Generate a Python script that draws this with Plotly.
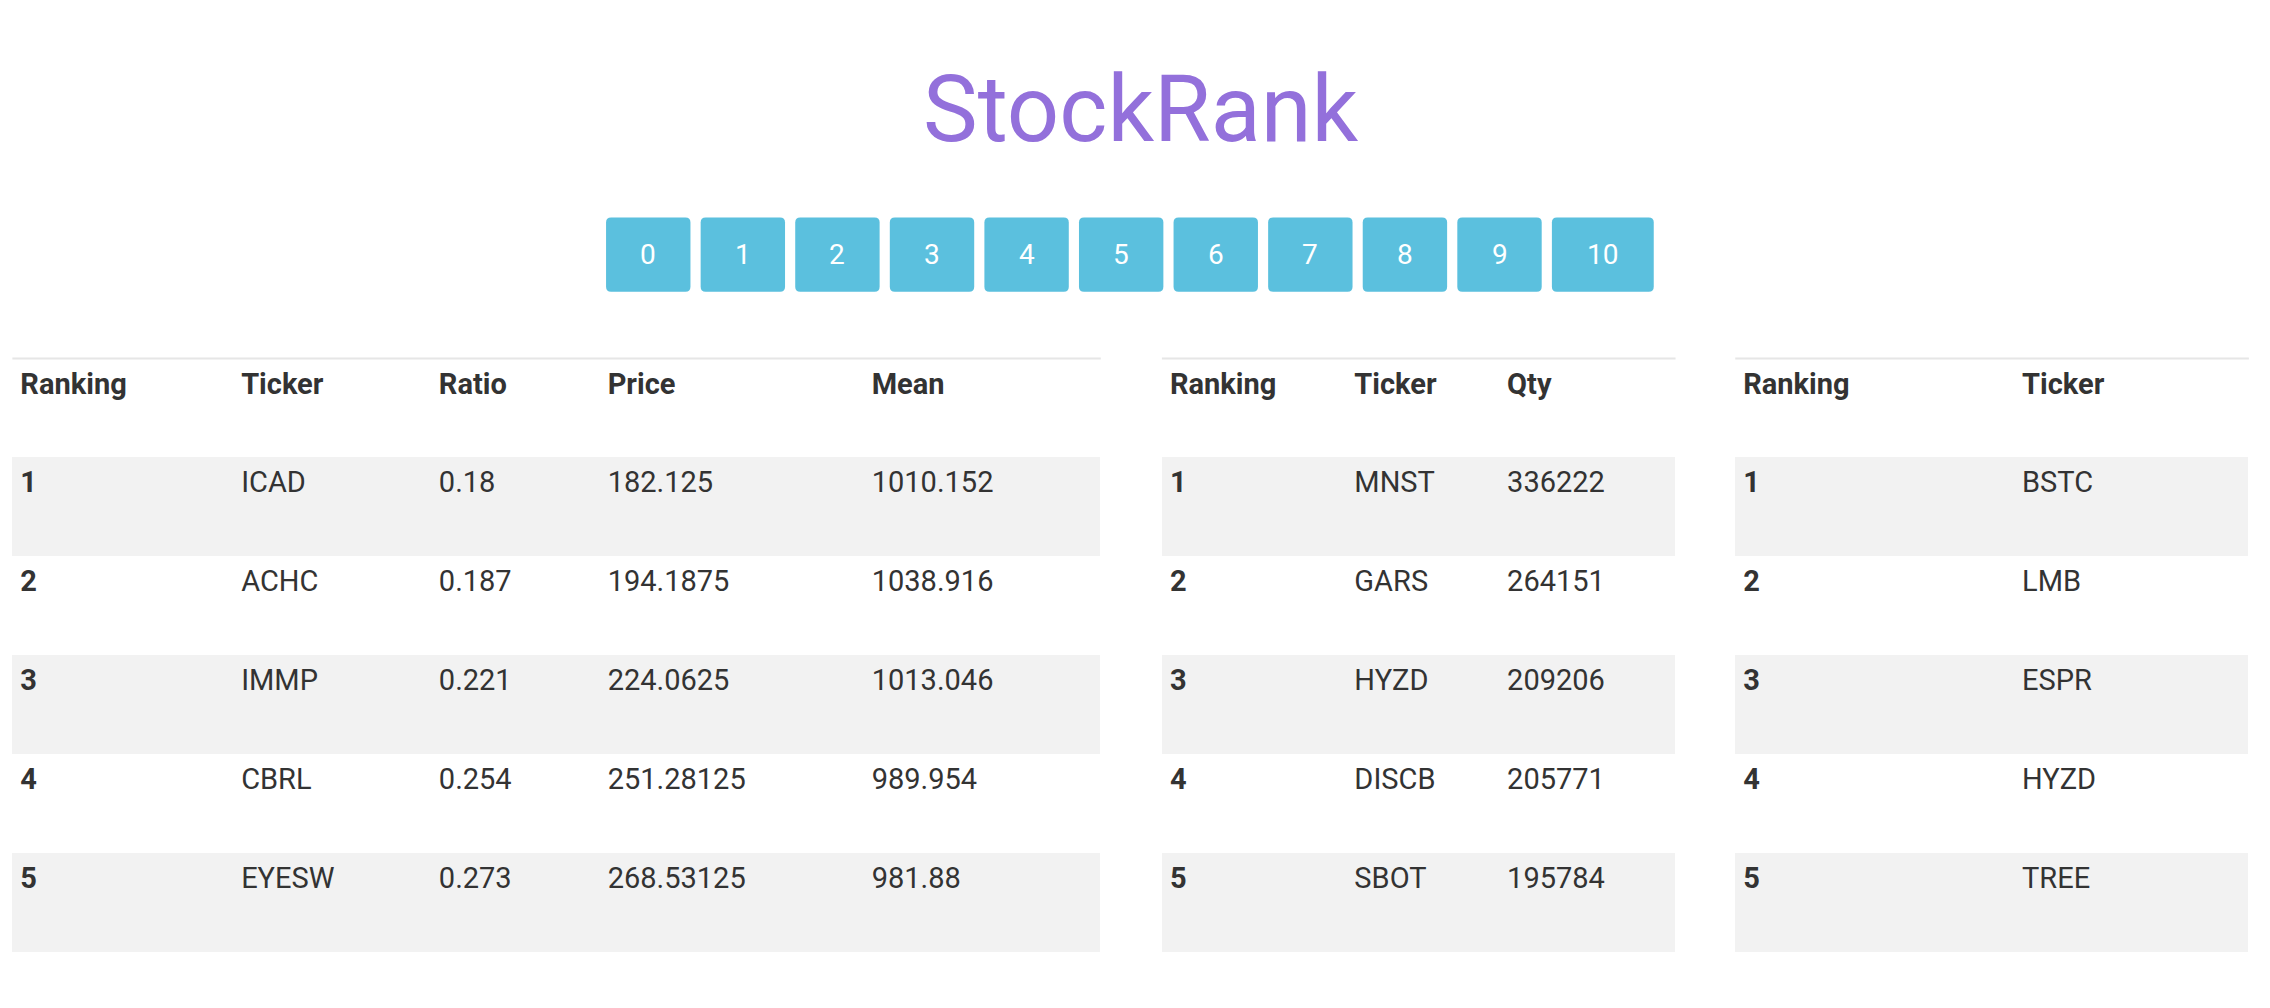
import plotly.graph_objects as go

W, H = 2270, 1008
S = W / 1560.0  # reference layout measured at 1560 px wide

title = "StockRank"
pages = ["0", "1", "2", "3", "4", "5", "6", "7", "8", "9", "10"]

t1_cols = ["Ranking", "Ticker", "Ratio", "Price", "Mean"]
t1_rank = ["1", "2", "3", "4", "5"]
t1_ticker = ["ICAD", "ACHC", "IMMP", "CBRL", "EYESW"]
t1_ratio = ["0.18", "0.187", "0.221", "0.254", "0.273"]
t1_price = ["182.125", "194.1875", "224.0625", "251.28125", "268.53125"]
t1_mean = ["1010.152", "1038.916", "1013.046", "989.954", "981.88"]

t2_cols = ["Ranking", "Ticker", "Qty"]
t2_rank = ["1", "2", "3", "4", "5"]
t2_ticker = ["MNST", "GARS", "HYZD", "DISCB", "SBOT"]
t2_qty = ["336222", "264151", "209206", "205771", "195784"]

t3_cols = ["Ranking", "Ticker"]
t3_rank = ["1", "2", "3", "4", "5"]
t3_ticker = ["BSTC", "LMB", "ESPR", "HYZD", "TREE"]

FONT = "Roboto"
TXT = "#333333"
fills = ["#f2f2f2", "#ffffff", "#f2f2f2", "#ffffff", "#f2f2f2"]
ROWH = 68 * S

def px(x):
    return x / 1560.0

def py(y):
    return 1 - y / 693.0

def make_table(cols, data, x0, x1, widths):
    ncol = len(cols)
    header = ["<br><b>" + c + "</b>" for c in cols]
    cells = [["<br><b>" + v + "</b>" for v in data[0]]] + [["<br>" + v for v in col] for col in data[1:]]
    return go.Table(
        domain=dict(x=[px(x0), px(x1)], y=[0, py(241)]),
        columnwidth=widths,
        header=dict(values=header, fill_color="white", line_color="rgba(0,0,0,0)",
                    align="left", height=ROWH,
                    font=dict(family=FONT, size=29, color=TXT)),
        cells=dict(values=cells, fill_color=[fills] * ncol, line_color="rgba(0,0,0,0)",
                   align="left", height=ROWH,
                   font=dict(family=FONT, size=29, color=TXT)),
    )

fig = go.Figure()
fig.add_trace(make_table(t1_cols, [t1_rank, t1_ticker, t1_ratio, t1_price, t1_mean],
                         3, 751, [153, 137, 117, 183, 164]))
fig.add_trace(make_table(t2_cols, [t2_rank, t2_ticker, t2_qty], 793, 1146, [128, 106, 122]))
fig.add_trace(make_table(t3_cols, [t3_rank, t3_ticker], 1187, 1540, [194, 163]))

shapes = []
annotations = [dict(text=title, x=0.499, y=py(70), xref="paper", yref="paper",
                    xanchor="center", yanchor="middle",
                    showarrow=False, font=dict(family=FONT, size=92, color="#9370db"))]

# top borders of tables
for a, b in [(3, 751), (793, 1146), (1187, 1540)]:
    shapes.append(dict(type="line", xref="paper", yref="paper", x0=px(a), x1=px(b),
                       y0=py(241), y1=py(241), line=dict(color="#e6e6e6", width=2)))

# pagination buttons
bx = [411, 476, 541, 606, 671, 736, 801, 866, 931, 996, 1061]
bw = [58] * 10 + [70]
top, bot = 144 * S, 195 * S
r = 5
for lab, x, w in zip(pages, bx, bw):
    X0, X1 = x * S, (x + w) * S
    path = (f"M {X0+r},{H-top} L {X1-r},{H-top} Q {X1},{H-top} {X1},{H-top-r} "
            f"L {X1},{H-bot+r} Q {X1},{H-bot} {X1-r},{H-bot} L {X0+r},{H-bot} "
            f"Q {X0},{H-bot} {X0},{H-bot+r} L {X0},{H-top-r} Q {X0},{H-top} {X0+r},{H-top} Z")
    shapes.append(dict(type="path", xref="paper", yref="paper",
                       path=" ".join(
                           (f"{float(t.split(',')[0])/W},{float(t.split(',')[1])/H}" if "," in t else t)
                           for t in path.split()),
                       fillcolor="#5bc0de", line=dict(width=0)))
    annotations.append(dict(text=lab, x=(X0 + X1) / 2 / W, y=1 - (top + bot) / 2 / H,
                            xref="paper", yref="paper", xanchor="center", yanchor="middle",
                            showarrow=False,
                            font=dict(family=FONT, size=28, color="white")))

fig.update_layout(width=W, height=H, margin=dict(l=0, r=0, t=0, b=0),
                  paper_bgcolor="white", plot_bgcolor="white",
                  shapes=shapes, annotations=annotations)
fig.write_html("out.html")
